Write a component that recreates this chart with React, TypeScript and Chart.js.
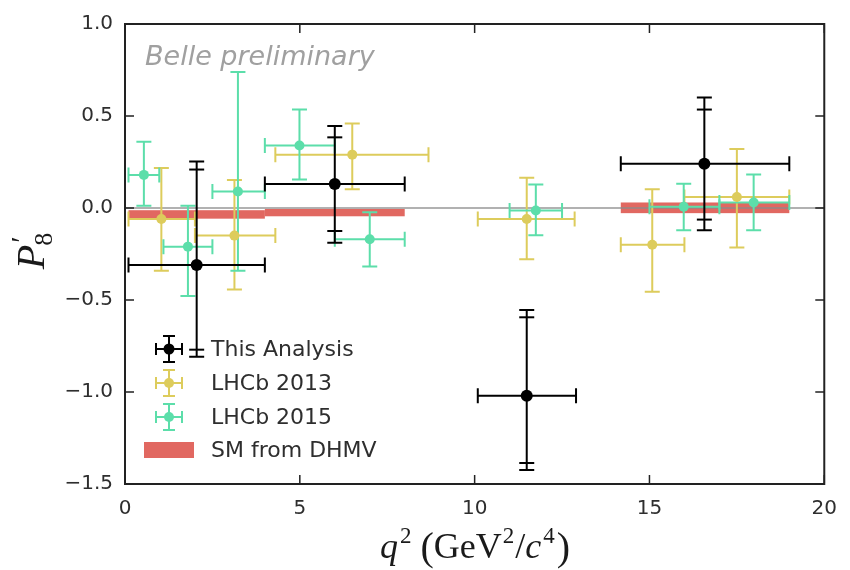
import { useEffect, useRef } from 'react';
import { Chart, registerables } from 'chart.js';
Chart.register(...registerables);

// ---------- data ----------
const xTickValues = [0, 5, 10, 15, 20];
const yTickValues = [-1.5, -1.0, -0.5, 0.0, 0.5, 1.0];

// This Analysis (Belle)
const thisQ2 = [2.05, 6.0, 11.49, 16.57];
const thisQ2Lo = [0.1, 4.0, 10.09, 14.18];
const thisQ2Hi = [4.0, 8.0, 12.9, 19.0];
const thisP8 = [-0.31, 0.13, -1.02, 0.24];
const thisStatLo = [-0.77, -0.125, -1.386, -0.063];
const thisStatHi = [0.209, 0.384, -0.594, 0.535];
const thisTotLo = [-0.808, -0.189, -1.424, -0.121];
const thisTotHi = [0.253, 0.446, -0.555, 0.601];

// LHCb 2013
const lhcb13Q2 = [1.04, 3.13, 6.5, 11.49, 15.08, 17.5];
const lhcb13Q2Lo = [0.1, 2.0, 4.3, 10.09, 14.18, 16.0];
const lhcb13Q2Hi = [2.0, 4.3, 8.68, 12.86, 16.0, 19.0];
const lhcb13P8 = [-0.06, -0.15, 0.29, -0.06, -0.2, 0.06];
const lhcb13Lo = [-0.341, -0.443, 0.102, -0.278, -0.455, -0.214];
const lhcb13Hi = [0.218, 0.152, 0.459, 0.164, 0.102, 0.321];

// LHCb 2015
const lhcb15Q2 = [0.54, 1.8, 3.23, 4.99, 7.0, 11.75, 15.98, 17.98];
const lhcb15Q2Lo = [0.1, 1.1, 2.5, 4.0, 6.0, 11.0, 15.0, 17.0];
const lhcb15Q2Hi = [0.98, 2.5, 4.0, 6.0, 8.0, 12.5, 17.0, 19.0];
const lhcb15P8 = [0.18, -0.21, 0.09, 0.34, -0.17, -0.014, 0.007, 0.03];
const lhcb15Lo = [0.012, -0.478, -0.341, 0.155, -0.318, -0.148, -0.121, -0.121];
const lhcb15Hi = [0.36, 0.012, 0.739, 0.535, -0.023, 0.128, 0.132, 0.182];

// SM from DHMV
const smQ2Lo = [0.1, 4.0, 14.18];
const smQ2Hi = [4.0, 8.0, 19.0];
const smLo = [-0.058, -0.045, -0.028];
const smHi = [-0.012, -0.005, 0.03];

const legendLabels = ['This Analysis', 'LHCb 2013', 'LHCb 2015', 'SM from DHMV'];

// ---------- styles ----------
const BLACK = '#000000';
const YELLOW = 'rgb(221,204,92)';
const GREEN = 'rgb(92,222,170)';
const RED = 'rgba(222,88,80,0.9)';
const TEXT = '#2e2e2e';
const SANS = "'DejaVu Sans'";
const SERIF = "'Liberation Serif'";

function errBar(ctx: CanvasRenderingContext2D, xs: any, ys: any, x: number, xl: number, xh: number, y: number, yl: number, yh: number, color: string, lw: number, cap: number) {
  const px = xs.getPixelForValue(x), pxl = xs.getPixelForValue(xl), pxh = xs.getPixelForValue(xh);
  const py = ys.getPixelForValue(y), pyl = ys.getPixelForValue(yl), pyh = ys.getPixelForValue(yh);
  ctx.strokeStyle = color;
  ctx.lineWidth = lw;
  ctx.beginPath();
  ctx.moveTo(pxl, py); ctx.lineTo(pxh, py);
  ctx.moveTo(px, pyl); ctx.lineTo(px, pyh);
  ctx.moveTo(pxl, py - cap); ctx.lineTo(pxl, py + cap);
  ctx.moveTo(pxh, py - cap); ctx.lineTo(pxh, py + cap);
  ctx.moveTo(px - cap, pyl); ctx.lineTo(px + cap, pyl);
  ctx.moveTo(px - cap, pyh); ctx.lineTo(px + cap, pyh);
  ctx.stroke();
}

function yCap(ctx: CanvasRenderingContext2D, xs: any, ys: any, x: number, y: number, color: string, lw: number, cap: number) {
  const px = xs.getPixelForValue(x), py = ys.getPixelForValue(y);
  ctx.strokeStyle = color;
  ctx.lineWidth = lw;
  ctx.beginPath();
  ctx.moveTo(px - cap, py); ctx.lineTo(px + cap, py);
  ctx.stroke();
}

function drawSegments(ctx: CanvasRenderingContext2D, segs: { t: string; f: string; dy: number; dx?: number; stack?: boolean }[], cx: number, baseY: number) {
  const widths: number[] = [];
  let total = 0;
  segs.forEach((s, i) => {
    ctx.font = s.f;
    const w = ctx.measureText(s.t).width + (s.dx || 0);
    widths.push(w);
    if (s.stack && i > 0) total += Math.max(0, w - widths[i - 1]);
    else total += w;
  });
  let x = cx - total / 2;
  let lastX = x;
  ctx.textBaseline = 'alphabetic';
  ctx.textAlign = 'left';
  segs.forEach((s, i) => {
    ctx.font = s.f;
    const drawX = s.stack ? lastX : x;
    ctx.fillText(s.t, drawX + (s.dx || 0), baseY + s.dy);
    if (s.stack) x = Math.max(x, drawX + widths[i]);
    else { lastX = x; x += widths[i]; }
  });
}

function legendIcon(ctx: CanvasRenderingContext2D, cx: number, cy: number, color: string, r: number) {
  const h = 13, cap = 6;
  ctx.strokeStyle = color;
  ctx.lineWidth = 2;
  ctx.beginPath();
  ctx.moveTo(cx - h, cy); ctx.lineTo(cx + h, cy);
  ctx.moveTo(cx, cy - h); ctx.lineTo(cx, cy + h);
  ctx.moveTo(cx - h, cy - cap); ctx.lineTo(cx - h, cy + cap);
  ctx.moveTo(cx + h, cy - cap); ctx.lineTo(cx + h, cy + cap);
  ctx.moveTo(cx - cap, cy - h); ctx.lineTo(cx + cap, cy - h);
  ctx.moveTo(cx - cap, cy + h); ctx.lineTo(cx + cap, cy + h);
  ctx.stroke();
  ctx.fillStyle = color;
  ctx.beginPath();
  ctx.arc(cx, cy, r, 0, Math.PI * 2);
  ctx.fill();
}

const decorPlugin = {
  id: 'decor',
  beforeDatasetsDraw(chart: any) {
    const ctx = chart.ctx as CanvasRenderingContext2D;
    const xs = chart.scales.x, ys = chart.scales.y;
    const area = chart.chartArea;
    ctx.save();
    // SM bands
    ctx.fillStyle = RED;
    for (let i = 0; i < smQ2Lo.length; i++) {
      const x0 = xs.getPixelForValue(smQ2Lo[i]), x1 = xs.getPixelForValue(smQ2Hi[i]);
      const y0 = ys.getPixelForValue(smHi[i]), y1 = ys.getPixelForValue(smLo[i]);
      ctx.fillRect(x0, y0, x1 - x0, y1 - y0);
    }
    // zero line
    ctx.strokeStyle = 'rgba(140,140,140,0.9)';
    ctx.lineWidth = 1.6;
    ctx.beginPath();
    ctx.moveTo(area.left, ys.getPixelForValue(0));
    ctx.lineTo(area.right, ys.getPixelForValue(0));
    ctx.stroke();
    // error bars
    for (let i = 0; i < lhcb13Q2.length; i++)
      errBar(ctx, xs, ys, lhcb13Q2[i], lhcb13Q2Lo[i], lhcb13Q2Hi[i], lhcb13P8[i], lhcb13Lo[i], lhcb13Hi[i], YELLOW, 2, 7.5);
    for (let i = 0; i < lhcb15Q2.length; i++)
      errBar(ctx, xs, ys, lhcb15Q2[i], lhcb15Q2Lo[i], lhcb15Q2Hi[i], lhcb15P8[i], lhcb15Lo[i], lhcb15Hi[i], GREEN, 2, 7.5);
    for (let i = 0; i < thisQ2.length; i++) {
      errBar(ctx, xs, ys, thisQ2[i], thisQ2Lo[i], thisQ2Hi[i], thisP8[i], thisTotLo[i], thisTotHi[i], BLACK, 2, 7.5);
      yCap(ctx, xs, ys, thisQ2[i], thisStatLo[i], BLACK, 2, 7.5);
      yCap(ctx, xs, ys, thisQ2[i], thisStatHi[i], BLACK, 2, 7.5);
    }
    ctx.restore();
  },
  afterDraw(chart: any) {
    const ctx = chart.ctx as CanvasRenderingContext2D;
    const xs = chart.scales.x, ys = chart.scales.y;
    const a = chart.chartArea;
    ctx.save();
    // frame
    ctx.strokeStyle = '#222';
    ctx.lineWidth = 2;
    ctx.strokeRect(a.left, a.top, a.right - a.left, a.bottom - a.top);
    // inward ticks
    ctx.lineWidth = 1.5;
    ctx.beginPath();
    const tl = 9;
    for (const v of xTickValues) {
      const p = xs.getPixelForValue(v);
      ctx.moveTo(p, a.bottom); ctx.lineTo(p, a.bottom - tl);
      ctx.moveTo(p, a.top); ctx.lineTo(p, a.top + tl);
    }
    for (const v of yTickValues) {
      const p = ys.getPixelForValue(v);
      ctx.moveTo(a.left, p); ctx.lineTo(a.left + tl, p);
      ctx.moveTo(a.right, p); ctx.lineTo(a.right - tl, p);
    }
    ctx.stroke();

    // Belle preliminary
    ctx.fillStyle = '#a0a0a0';
    ctx.font = `oblique 27px ${SANS}`;
    ctx.textAlign = 'left';
    ctx.textBaseline = 'alphabetic';
    ctx.fillText('Belle preliminary', a.left + 20, a.top + 41);

    // legend
    const lx = 169, rows = [349, 383, 417, 450];
    legendIcon(ctx, lx, rows[0], BLACK, 5.5);
    legendIcon(ctx, lx, rows[1], YELLOW, 5);
    legendIcon(ctx, lx, rows[2], GREEN, 5);
    ctx.fillStyle = RED;
    ctx.fillRect(lx - 25, rows[3] - 8, 50, 16);
    ctx.fillStyle = TEXT;
    ctx.font = `22px ${SANS}`;
    ctx.textBaseline = 'middle';
    for (let i = 0; i < legendLabels.length; i++) ctx.fillText(legendLabels[i], 211, rows[i] + 1);

    // x title
    ctx.fillStyle = '#1a1a1a';
    drawSegments(ctx, [
      { t: 'q', f: `italic 36px ${SERIF}`, dy: 0 },
      { t: '2', f: `23px ${SERIF}`, dy: -15, dx: 2 },
      { t: '(', f: `40px ${SERIF}`, dy: 2, dx: 9 },
      { t: 'GeV', f: `36px ${SERIF}`, dy: 0 },
      { t: '2', f: `23px ${SERIF}`, dy: -15, dx: 1 },
      { t: '/', f: `36px ${SERIF}`, dy: 0, dx: 1 },
      { t: 'c', f: `italic 36px ${SERIF}`, dy: 0 },
      { t: '4', f: `23px ${SERIF}`, dy: -15, dx: 2 },
      { t: ')', f: `40px ${SERIF}`, dy: 2, dx: 2 },
    ], 475, 558);

    // y title (prime and subscript stacked)
    ctx.save();
    ctx.translate(44, 251);
    ctx.rotate(-Math.PI / 2);
    drawSegments(ctx, [
      { t: 'P', f: `italic 40px ${SERIF}`, dy: 0 },
      { t: '\u2032', f: `30px ${SERIF}`, dy: -13, dx: 2 },
      { t: '8', f: `26px ${SERIF}`, dy: 8, dx: -1, stack: true },
    ], 0, 0);
    ctx.restore();
    ctx.restore();
  },
};

export default function App() {
  const ref = useRef<HTMLCanvasElement>(null);
  useEffect(() => {
    const toPts = (xs: number[], ys: number[]) => xs.map((x, i) => ({ x, y: ys[i] }));
    const chart = new Chart(ref.current!, {
      type: 'scatter',
      data: {
        datasets: [
          { label: legendLabels[0], data: toPts(thisQ2, thisP8), backgroundColor: BLACK, borderWidth: 0, pointRadius: 6, order: 1 },
          { label: legendLabels[1], data: toPts(lhcb13Q2, lhcb13P8), backgroundColor: YELLOW, borderWidth: 0, pointRadius: 5, order: 3 },
          { label: legendLabels[2], data: toPts(lhcb15Q2, lhcb15P8), backgroundColor: GREEN, borderWidth: 0, pointRadius: 5, order: 2 },
        ],
      },
      options: {
        responsive: false,
        animation: false,
        devicePixelRatio: 1,
        layout: { padding: { left: 0, top: 17, right: 24, bottom: 0 } },
        plugins: { legend: { display: false }, tooltip: { enabled: false }, title: { display: false } },
        scales: {
          x: {
            type: 'linear', min: 0, max: 20,
            afterBuildTicks: (s: any) => { s.ticks = xTickValues.map((v) => ({ value: v })); },
            afterFit: (s: any) => { s.height = 86; },
            ticks: { color: TEXT, font: { family: 'DejaVu Sans', size: 20 }, padding: 13, maxRotation: 0, callback: (v: any) => String(v) },
            grid: { display: false, drawTicks: false },
            border: { display: false },
          },
          y: {
            type: 'linear', min: -1.5, max: 1.0,
            afterBuildTicks: (s: any) => { s.ticks = yTickValues.map((v) => ({ value: v })); },
            afterFit: (s: any) => { s.width = 125; },
            ticks: {
              color: TEXT, font: { family: 'DejaVu Sans', size: 20 }, padding: 12,
              callback: (v: any) => (v < 0 ? '\u2212' : '') + Math.abs(Number(v)).toFixed(1),
            },
            grid: { display: false, drawTicks: false },
            border: { display: false },
          },
        },
      },
      plugins: [decorPlugin],
    } as any);
    return () => chart.destroy();
  }, []);
  return (
    <div style={{ position: 'fixed', left: 0, top: 0, width: 850, height: 570, background: '#fff' }}>
      <canvas ref={ref} width={850} height={570} style={{ display: 'block', width: 850, height: 570 }} />
    </div>
  );
}
